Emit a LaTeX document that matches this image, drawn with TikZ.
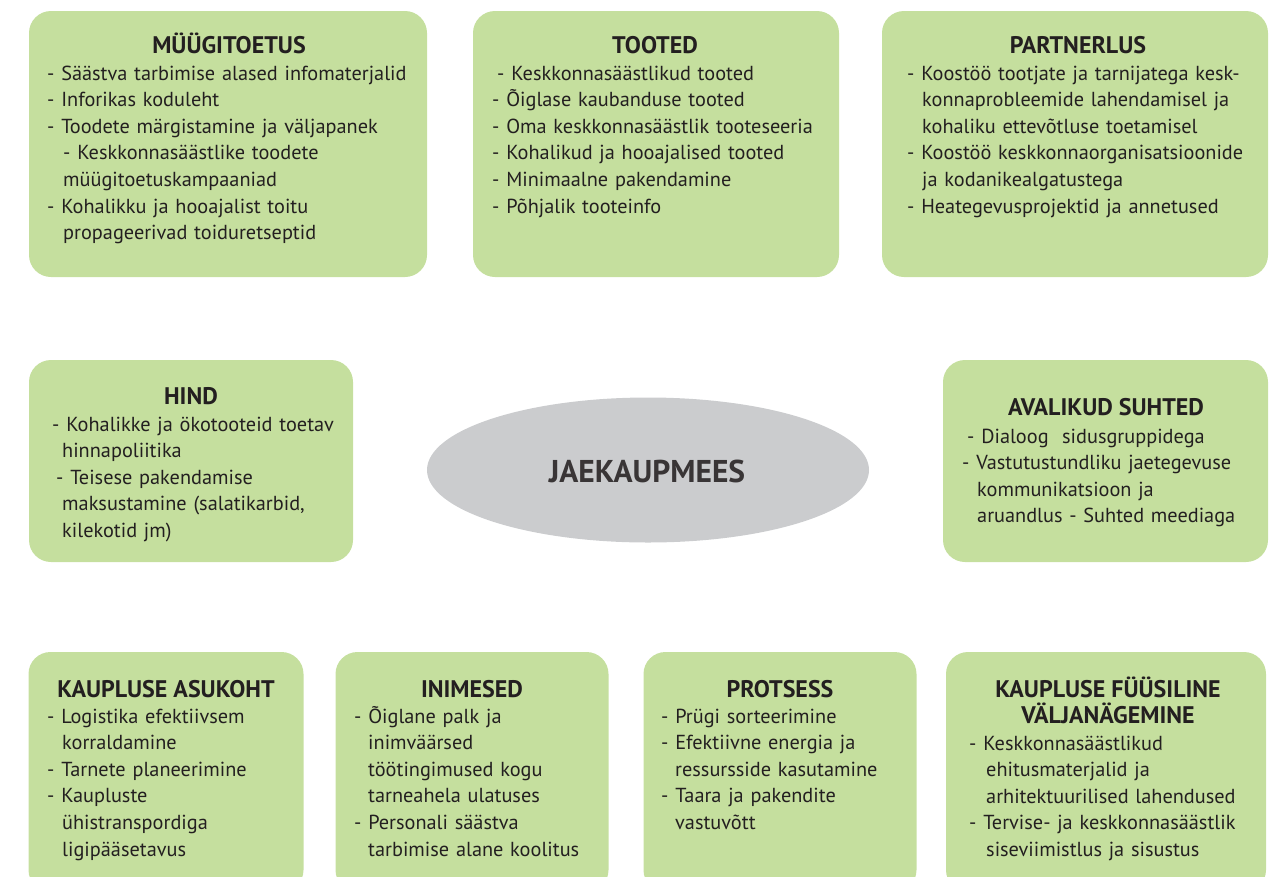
\documentclass[tikz,border=0pt]{standalone}
\usepackage{fontspec}
\setmainfont{PT Sans}
\usetikzlibrary{shapes.geometric}
\definecolor{boxgreen}{RGB}{197,223,158}
\definecolor{ellgrey}{RGB}{203,204,206}
\definecolor{ink}{RGB}{35,31,32}
\newcommand{\bodyfnt}{\fontsize{20.3}{26.6}\selectfont}
\newcommand{\titlefnt}{\fontsize{24}{26.6}\selectfont\bfseries}
\newcommand{\ind}[1]{\hspace*{#1pt}}
\begin{document}
\begin{tikzpicture}[x=1pt,y=-1pt,
  greenbox/.style={fill=boxgreen, draw=none, rounded corners=22pt, inner sep=0pt},
  boxtitle/.style={anchor=base, inner sep=0pt, font=\titlefnt, text=ink},
  boxbody/.style={anchor=base west, inner sep=0pt, font=\bodyfnt, text=ink, align=left, text width=#1},
  centre/.style={ellipse, fill=ellgrey, draw=none, inner sep=0pt}
]
\useasboundingbox (0,0) rectangle (1273,876);
\clip (0,0) rectangle (1273,876);

% ---- top row
\node[greenbox, minimum width=398pt, minimum height=266pt] (mbox) at (228,144) {};
\node[boxtitle] (mtitle) at (229,53) {MÜÜGITOETUS};
\node[boxbody=375pt] (mbody) at (47,80) {- Säästva tarbimise alased infomaterjalid\\
- Inforikas koduleht\\
- Toodete märgistamine ja väljapanek\\
\ind{16}- Keskkonnasäästlike toodete\\
\ind{16}müügitoetuskampaaniad\\
- Kohalikku ja hooajalist toitu\\
\ind{16}propageerivad toiduretseptid};

\node[greenbox, minimum width=366pt, minimum height=266pt] (tbox) at (656,144) {};
\node[boxtitle] (ttitle) at (655,53) {TOOTED};
\node[boxbody=340pt] (tbody) at (492,80) {\ind{5}- Keskkonnasäästlikud tooted\\
- Õiglase kaubanduse tooted\\
- Oma keskkonnasäästlik tooteseeria\\
- Kohalikud ja hooajalised tooted\\
- Minimaalne pakendamine\\
- Põhjalik tooteinfo};

\node[greenbox, minimum width=386pt, minimum height=266pt] (pbox) at (1075,144) {};
\node[boxtitle] (ptitle) at (1078,53) {PARTNERLUS};
\node[boxbody=355pt] (pbody) at (907,80) {- Koostöö tootjate ja tarnijatega kesk-\\
\ind{15}konnaprobleemide lahendamisel ja\\
\ind{15}kohaliku ettevõtluse toetamisel\\
- Koostöö keskkonnaorganisatsioonide\\
\ind{15}ja kodanikealgatustega\\
- Heategevusprojektid ja annetused};

% ---- middle row
\node[greenbox, minimum width=324pt, minimum height=202pt] (hbox) at (191,461) {};
\node[boxtitle] (htitle) at (191,404) {HIND};
\node[boxbody=300pt] (hbody) at (52,431) {- Kohalikke ja ökotooteid toetav\\
\ind{10}hinnapoliitika\\
\ind{4}- Teisese pakendamise\\
\ind{10}maksustamine (salatikarbid,\\
\ind{10}kilekotid jm)};

\node[centre, minimum width=442pt, minimum height=145pt] (centre) at (648,470) {};
\node[anchor=base, inner sep=0pt, font=\fontsize{31.5}{36}\selectfont\bfseries, text=ink!90!white] (ctext) at (647,482) {JAEKAUPMEES};

\node[greenbox, minimum width=325pt, minimum height=202pt] (abox) at (1105.5,461) {};
\node[boxtitle] (atitle) at (1106,415) {AVALIKUD SUHTED};
\node[boxbody=300pt] (abody) at (962,443) {\ind{5}- Dialoog~ sidusgruppidega\\
- Vastutustundliku jaetegevuse\\
\ind{15}kommunikatsioon ja\\
\ind{15}aruandlus - Suhted meediaga};

% ---- bottom row
\node[greenbox, minimum width=275pt, minimum height=240pt] (kbox) at (166,772) {};
\node[boxtitle] (ktitle) at (166,697) {KAUPLUSE ASUKOHT};
\node[boxbody=250pt] (kbody) at (47,723) {- Logistika efektiivsem\\
\ind{15}korraldamine\\
- Tarnete planeerimine\\
- Kaupluste\\
\ind{15}ühistranspordiga\\
\ind{15}ligipääsetavus};

\node[greenbox, minimum width=273pt, minimum height=240pt] (ibox) at (472,772) {};
\node[boxtitle] (ititle) at (472,697) {INIMESED};
\node[boxbody=250pt] (ibody) at (354,723) {- Õiglane palk ja\\
\ind{14}inimväärsed\\
\ind{14}töötingimused kogu\\
\ind{14}tarneahela ulatuses\\
- Personali säästva\\
\ind{14}tarbimise alane koolitus};

\node[greenbox, minimum width=273pt, minimum height=240pt] (rbox) at (780,772) {};
\node[boxtitle] (rtitle) at (780,697) {PROTSESS};
\node[boxbody=250pt] (rbody) at (661,723) {- Prügi sorteerimine\\
- Efektiivne energia ja\\
\ind{14}ressursside kasutamine\\
- Taara ja pakendite\\
\ind{14}vastuvõtt};

\node[greenbox, minimum width=320pt, minimum height=240pt] (fbox) at (1106,772) {};
\node[boxtitle] (ftitle) at (1108,697) {KAUPLUSE FÜÜSILINE};
\node[boxtitle] (ftitleb) at (1108,723.5) {VÄLJANÄGEMINE};
\node[boxbody=295pt] (fbody) at (969,750) {- Keskkonnasäästlikud\\
\ind{17}ehitusmaterjalid ja\\
\ind{17}arhitektuurilised lahendused\\
- Tervise- ja keskkonnasäästlik\\
\ind{17}siseviimistlus ja sisustus};
\end{tikzpicture}
\end{document}
